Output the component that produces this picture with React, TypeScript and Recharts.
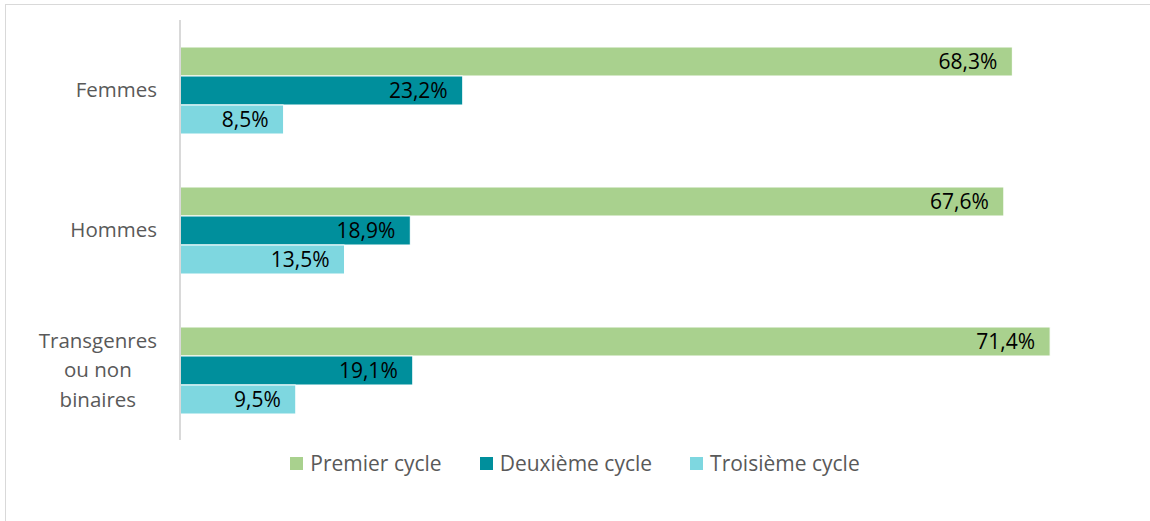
import { BarChart, Bar, XAxis, YAxis, LabelList, Legend } from "recharts";

const categories = ["Femmes", "Hommes", "Transgenres\nou non\nbinaires"];
const premierCycle = [68.3, 67.6, 71.4];
const deuxiemeCycle = [23.2, 18.9, 19.1];
const troisiemeCycle = [8.5, 13.5, 9.5];

const seriesNames = ["Premier cycle", "Deuxième cycle", "Troisième cycle"];
const seriesColors = ["#A9D18E", "#008F9C", "#7ED7E0"];

const data = categories.map((name, i) => ({
  name,
  premier: premierCycle[i],
  deuxieme: deuxiemeCycle[i],
  troisieme: troisiemeCycle[i],
}));

const FONT = "'Open Sans', sans-serif";

const fmt = (v: any) => `${Number(v).toFixed(1).replace(".", ",")}%`;

let ctx: CanvasRenderingContext2D | null = null;
function textWidth(s: string, size: number) {
  if (!ctx) ctx = document.createElement("canvas").getContext("2d");
  if (!ctx) return s.length * size * 0.5;
  ctx.font = `${size}px 'Open Sans'`;
  return ctx.measureText(s).width;
}

function CategoryTick(props: any) {
  const { x, y, payload } = props;
  const lines: string[] = String(payload.value).split("\n");
  const size = 20.5;
  const lh = 29.5;
  const w = Math.max(...lines.map((l) => textWidth(l, size)));
  const cx = x - w / 2;
  const y0 = y - ((lines.length - 1) * lh) / 2;
  return (
    <g>
      {lines.map((l, i) => (
        <text
          key={i}
          x={cx}
          y={y0 + i * lh}
          dy="0.35em"
          textAnchor="middle"
          fill="#595959"
          fontSize={size}
          fontFamily={FONT}
        >
          {l}
        </text>
      ))}
    </g>
  );
}

function LegendContent() {
  return (
    <div
      style={{
        display: "flex",
        justifyContent: "center",
        fontFamily: FONT,
        fontSize: 21,
        lineHeight: "28px",
        color: "#595959",
      }}
    >
      {seriesNames.map((n, i) => (
        <div
          key={n}
          style={{ display: "flex", alignItems: "center", marginRight: i < 2 ? 38 : 0 }}
        >
          <span
            style={{
              display: "inline-block",
              width: 13,
              height: 13,
              background: seriesColors[i],
              marginRight: 7,
            }}
          />
          <span>{n}</span>
        </div>
      ))}
    </div>
  );
}

export default function App() {
  const keys = ["premier", "deuxieme", "troisieme"];
  return (
    <div
      style={{
        position: "fixed",
        left: 0,
        top: 0,
        width: 1150,
        height: 521,
        overflow: "hidden",
        background: "#fff",
      }}
    >
      <div
        style={{
          position: "absolute",
          left: 5,
          top: 4,
          width: 1300,
          height: 700,
          border: "1px solid #d9d9d9",
        }}
      />
      <div style={{ position: "absolute", left: 0, top: 0 }}>
        <BarChart
          width={1150}
          height={521}
          data={data}
          layout="vertical"
          margin={{ top: 20, right: 56, bottom: 53, left: 0 }}
          barGap={0}
          barSize={29}
        >
          <XAxis type="number" domain={[0, 75]} hide />
          <YAxis
            type="category"
            dataKey="name"
            width={180}
            tickLine={false}
            tickSize={0}
            tickMargin={23}
            axisLine={{ stroke: "#d9d9d9", strokeWidth: 2 }}
            tick={<CategoryTick />}
            interval={0}
          />
          {keys.map((k, i) => (
            <Bar
              key={k}
              dataKey={k}
              name={seriesNames[i]}
              fill={seriesColors[i]}
              stroke="#ffffff"
              strokeWidth={1}
              isAnimationActive={false}
            >
              <LabelList
                dataKey={k}
                position="insideRight"
                offset={15}
                formatter={fmt}
                fill="#000000"
                fontSize={21}
                fontFamily={FONT}
              />
            </Bar>
          ))}
          <Legend
            content={<LegendContent />}
            wrapperStyle={{ left: 0, top: 449, width: 1150 }}
          />
        </BarChart>
      </div>
    </div>
  );
}
